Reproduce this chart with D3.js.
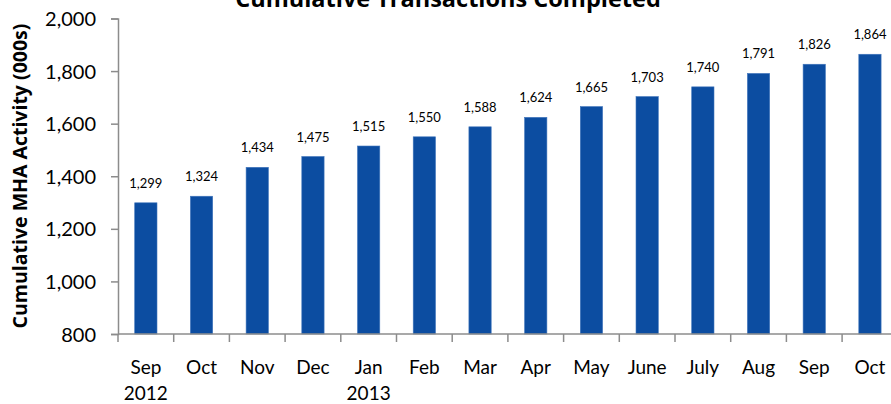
<!DOCTYPE html>
<html>
<head>
<meta charset="utf-8">
<script src="https://cdn.jsdelivr.net/npm/d3@7"></script>
<style>
  body { margin: 0; background: #fff; }
  svg text { font-family: Lato, "Open Sans", sans-serif; fill: #000; }
  svg text.title { font-family: "Open Sans", sans-serif; font-weight: bold; }
  .axis path, .axis line { stroke: #8c8c8c; stroke-width: 1.5; }
</style>
</head>
<body>
<div id="chart"></div>
<script>
// Cumulative transactions bar chart
const months = ["Sep", "Oct", "Nov", "Dec", "Jan", "Feb", "Mar", "Apr", "May", "June", "July", "Aug", "Sep", "Oct"];
const years = ["2012", "", "", "", "2013", "", "", "", "", "", "", "", "", ""];
const values = [1299, 1324, 1434, 1475, 1515, 1550, 1588, 1624, 1665, 1703, 1740, 1791, 1826, 1864];
const yTicks = [800, 1000, 1200, 1400, 1600, 1800, 2000];

const width = 891, height = 404;
const margin = { left: 118, top: 18.5, bottom: 334 };
const keys = months.map((m, i) => i);

const svg = d3.select("#chart").append("svg").attr("width", width).attr("height", height);

const x = d3.scaleBand().domain(keys).range([margin.left, margin.left + 14 * 55.7])
  .paddingInner(0.6).paddingOuter(0.3);
const y = d3.scaleLinear().domain([800, 2000]).range([margin.bottom, margin.top]);

svg.selectAll(".bar").data(values).join("rect").attr("class", "bar")
  .attr("x", (d, i) => x(i)).attr("y", d => y(d))
  .attr("width", x.bandwidth()).attr("height", d => y(800) - y(d))
  .attr("fill", "#0c4da1").attr("stroke", "#3f74bb").attr("stroke-width", 0.6);

svg.selectAll(".val").data(values).join("text").attr("class", "val")
  .attr("x", (d, i) => x(i) + x.bandwidth() / 2).attr("y", d => y(d) - 15)
  .attr("text-anchor", "middle").attr("font-size", 13).text(d3.format(","));

// y axis
const ya = svg.append("g").attr("class", "axis").attr("transform", `translate(${margin.left},0)`)
  .call(d3.axisLeft(y).tickValues(yTicks).tickFormat(d3.format(",")).tickSize(7).tickPadding(15));
ya.selectAll("text").attr("font-size", 20).attr("dy", "0.35em");

// x axis with category boundary ticks
const xa = svg.append("g").attr("class", "axis").attr("transform", `translate(0,${margin.bottom})`);
xa.append("line").attr("x1", margin.left).attr("x2", margin.left + 14 * 55.7);
const step = x.step();
xa.selectAll(".tk").data(d3.range(15)).join("line").attr("class", "tk")
  .attr("x1", i => x.range()[0] + i * step).attr("x2", i => x.range()[0] + i * step)
  .attr("y1", 0).attr("y2", 8);
xa.selectAll(".m").data(months).join("text").attr("class", "m")
  .attr("x", (d, i) => x(i) + x.bandwidth() / 2).attr("y", 40)
  .attr("text-anchor", "middle").attr("font-size", 19).text(d => d);
xa.selectAll(".yr").data(years).join("text").attr("class", "yr")
  .attr("x", (d, i) => x(i) + x.bandwidth() / 2).attr("y", 66)
  .attr("text-anchor", "middle").attr("font-size", 19).text(d => d);

// titles
svg.append("text").attr("class", "title").attr("x", 448).attr("y", 7).attr("text-anchor", "middle")
  .attr("font-size", 23.5).text("Cumulative Transactions Completed");
svg.append("text").attr("class", "title").attr("transform", "translate(27,176) rotate(-90)")
  .attr("text-anchor", "middle").attr("font-size", 19.5).text("Cumulative MHA Activity (000s)");
</script>
</body>
</html>
